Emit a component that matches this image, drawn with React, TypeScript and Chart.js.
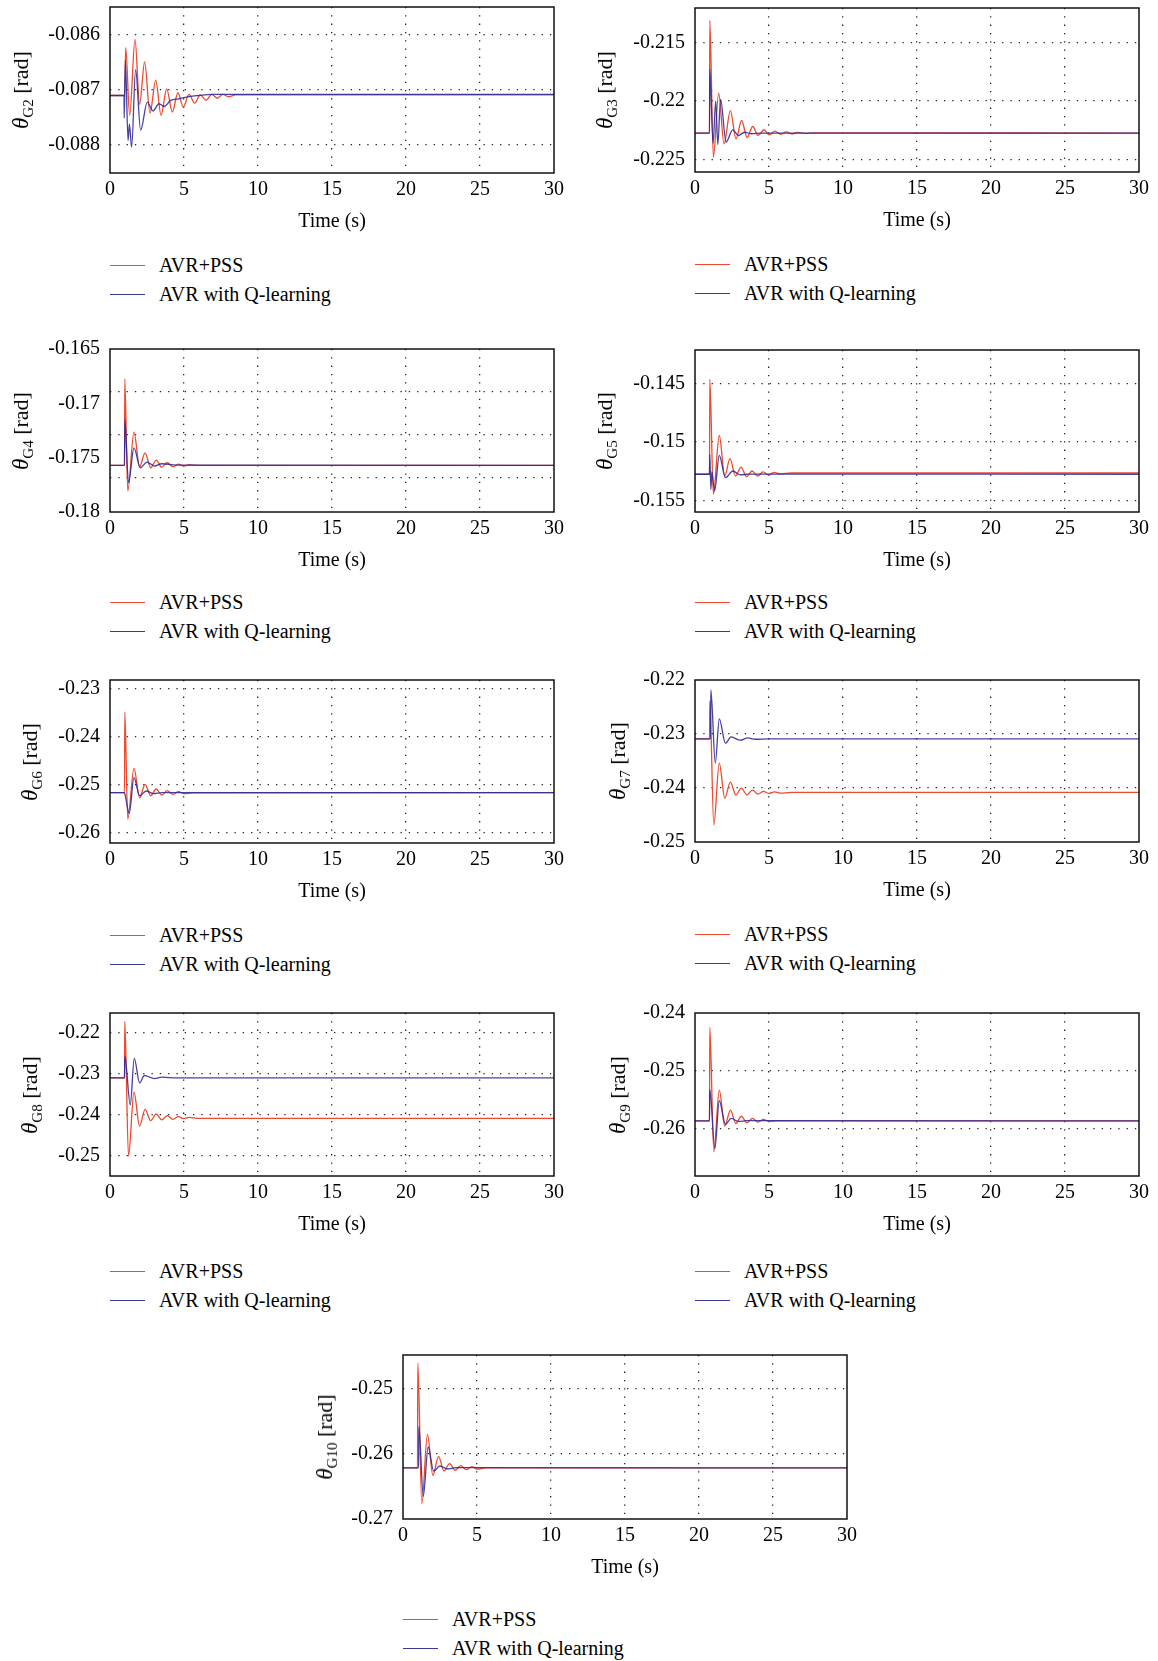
import React, { useEffect, useRef } from "react";
import { Chart, registerables } from "chart.js";
Chart.register(...registerables);

const FONT = '"Liberation Serif", "Times New Roman", serif';
const RED = "#ee4a30";
const BLUE = "rgba(44, 40, 150, 0.88)";
const BLUE_LEGEND = "#3a3896";

const timeTicks = [0, 5, 10, 15, 20, 25, 30];
const seriesNames = ["AVR+PSS", "AVR with Q-learning"];

// ---- G2 ----
const g2PssT = [0, 0.99, 1.06, 1.33, 1.69, 2.0, 2.34, 2.7, 3.09, 3.45, 3.83, 4.21, 4.59, 4.95, 5.34, 5.72, 6.1, 6.49, 6.87, 7.25, 7.63, 8.0, 8.5, 30];
const g2PssY = [-0.0871, -0.0871, -0.08623, -0.08746, -0.08608, -0.08726, -0.08649, -0.08742, -0.08682, -0.08746, -0.08698, -0.0874, -0.08705, -0.08731, -0.08708, -0.08724, -0.08709, -0.08719, -0.08708, -0.08715, -0.08708, -0.08712, -0.08709, -0.08709];
const g2QlT = [0, 0.95, 0.96, 1.04, 1.22, 1.31, 1.46, 1.73, 2.07, 2.52, 2.9, 3.31, 3.65, 4.1, 4.66, 5.34, 6.0, 6.9, 30];
const g2QlY = [-0.0871, -0.0871, -0.08751, -0.08646, -0.08792, -0.08762, -0.08804, -0.08663, -0.08773, -0.08722, -0.08738, -0.08725, -0.0873, -0.08719, -0.08716, -0.08712, -0.0871, -0.08708, -0.08708];
const g2Labels = [-0.086, -0.087, -0.088];
const g2Grid = [-0.086, -0.087, -0.088];
const g2Range = [-0.08851, -0.08549];

// ---- G3 ----
const g3PssT = [0, 0.98, 1.0, 1.24, 1.6, 1.96, 2.39, 2.77, 3.15, 3.52, 3.9, 4.26, 4.66, 5.02, 5.4, 5.79, 6.17, 6.55, 6.93, 7.5, 8.0, 30];
const g3PssY = [-0.22273, -0.22273, -0.21313, -0.22477, -0.21932, -0.22364, -0.2208, -0.22321, -0.22165, -0.2231, -0.22216, -0.22293, -0.22244, -0.22287, -0.22256, -0.22282, -0.22262, -0.2228, -0.22266, -0.22275, -0.2227, -0.22273];
const g3QlT = [0, 0.98, 1.0, 1.22, 1.4, 1.54, 1.73, 2.1, 2.55, 2.93, 3.35, 3.8, 4.5, 30];
const g3QlY = [-0.22273, -0.22273, -0.21727, -0.2236, -0.22, -0.2237, -0.21985, -0.2235, -0.22245, -0.22293, -0.22265, -0.22278, -0.22272, -0.22273];
const g3Labels = [-0.215, -0.22, -0.225];
const g3Grid = [-0.215, -0.22, -0.225];
const g3Range = [-0.22604, -0.21206];

// ---- G4 ----
const g4PssT = [0, 0.98, 1.0, 1.2, 1.62, 2.0, 2.37, 2.75, 3.12, 3.5, 3.87, 4.25, 4.62, 5.0, 5.37, 6.0, 30];
const g4PssY = [-0.17571, -0.17571, -0.16776, -0.17807, -0.17265, -0.17584, -0.17455, -0.17593, -0.17522, -0.17587, -0.17547, -0.17584, -0.17559, -0.17577, -0.17565, -0.17571, -0.17571];
const g4QlT = [0, 0.98, 1.0, 1.25, 1.62, 2.05, 2.5, 3.0, 3.5, 4.5, 30];
const g4QlY = [-0.17571, -0.17571, -0.17149, -0.1773, -0.17409, -0.17593, -0.17541, -0.17577, -0.17556, -0.17568, -0.17571];
const g4Labels = [-0.165, -0.17, -0.175, -0.18];
const g4Grid = [-0.16895, -0.1729, -0.17685];
const g4Range = [-0.18, -0.165];

// ---- G5 ----
const g5PssT = [0, 0.98, 1.0, 1.24, 1.64, 2.01, 2.36, 2.74, 3.11, 3.48, 3.86, 4.23, 4.6, 4.98, 5.35, 5.72, 6.5, 30];
const g5PssY = [-0.15276, -0.15276, -0.14459, -0.15447, -0.14943, -0.15291, -0.15142, -0.15291, -0.15214, -0.15296, -0.15248, -0.15291, -0.15256, -0.15282, -0.15259, -0.15273, -0.15265, -0.15265];
const g5QlT = [0, 0.98, 1.0, 1.07, 1.14, 1.32, 1.64, 2.06, 2.56, 3.06, 3.6, 30];
const g5QlY = [-0.15276, -0.15276, -0.15105, -0.15405, -0.15256, -0.15419, -0.15114, -0.15305, -0.15248, -0.15282, -0.15274, -0.15276];
const g5Labels = [-0.145, -0.15, -0.155];
const g5Grid = [-0.145, -0.15, -0.155];
const g5Range = [-0.156, -0.14209];

// ---- G6 ----
const g6PssT = [0, 0.98, 1.0, 1.2, 1.62, 2.0, 2.37, 2.75, 3.12, 3.5, 3.87, 4.25, 4.62, 5.0, 5.6, 30];
const g6PssY = [-0.2516, -0.2516, -0.23483, -0.2571, -0.24652, -0.25264, -0.24986, -0.25223, -0.25084, -0.25209, -0.25118, -0.25195, -0.25139, -0.25181, -0.25165, -0.2516];
const g6QlT = [0, 0.98, 1.05, 1.3, 1.62, 2.0, 2.45, 2.95, 3.5, 30];
const g6QlY = [-0.2516, -0.2516, -0.2525, -0.25592, -0.24847, -0.25223, -0.25125, -0.25181, -0.2516, -0.2516];
const g6Labels = [-0.23, -0.24, -0.25, -0.26];
const g6Grid = [-0.23, -0.24, -0.25, -0.26];
const g6Range = [-0.2621, -0.2281];

// ---- G7 ----
const g7PssT = [0, 0.98, 1.0, 1.27, 1.64, 2.01, 2.39, 2.76, 3.13, 3.51, 3.88, 4.25, 4.63, 5.0, 5.37, 5.75, 6.5, 30];
const g7PssY = [-0.2309, -0.2309, -0.22388, -0.24681, -0.2354, -0.24187, -0.23891, -0.24126, -0.24002, -0.24126, -0.24039, -0.24113, -0.24064, -0.24101, -0.2407, -0.24095, -0.24082, -0.24082];
const g7QlT = [0, 1.05, 1.07, 1.37, 1.64, 2.06, 2.44, 3.06, 3.56, 4.06, 5.0, 30];
const g7QlY = [-0.2309, -0.2309, -0.22185, -0.2354, -0.2272, -0.2317, -0.23054, -0.23115, -0.23072, -0.23097, -0.2309, -0.2309];
const g7Labels = [-0.22, -0.23, -0.24, -0.25];
const g7Grid = [-0.23, -0.24];
const g7Range = [-0.25, -0.22];

// ---- G8 ----
const g8PssT = [0, 0.98, 1.0, 1.25, 1.62, 2.0, 2.37, 2.75, 3.12, 3.5, 3.87, 4.25, 4.62, 5.0, 5.37, 6.0, 30];
const g8PssY = [-0.231, -0.231, -0.21716, -0.25011, -0.2345, -0.24276, -0.23867, -0.24145, -0.23981, -0.24128, -0.24022, -0.24112, -0.24047, -0.24096, -0.24063, -0.24088, -0.24088];
const g8QlT = [0, 0.98, 1.0, 1.37, 1.64, 2.0, 2.32, 3.0, 3.5, 4.5, 30];
const g8QlY = [-0.231, -0.231, -0.22558, -0.2376, -0.2262, -0.2322, -0.2304, -0.23114, -0.23082, -0.23098, -0.231];
const g8Labels = [-0.22, -0.23, -0.24, -0.25];
const g8Grid = [-0.22, -0.23, -0.24, -0.25];
const g8Range = [-0.255, -0.2151];

// ---- G9 ----
const g9PssT = [0, 0.98, 1.0, 1.27, 1.64, 2.01, 2.39, 2.76, 3.13, 3.51, 3.88, 4.25, 4.63, 5.0, 5.6, 30];
const g9PssY = [-0.25859, -0.25859, -0.24245, -0.26395, -0.25329, -0.25951, -0.25674, -0.25905, -0.2578, -0.25893, -0.25818, -0.25882, -0.25836, -0.2587, -0.25859, -0.25859];
const g9QlT = [0, 0.98, 1.0, 1.34, 1.64, 2.06, 2.44, 2.94, 3.5, 30];
const g9QlY = [-0.25859, -0.25859, -0.25317, -0.26337, -0.25513, -0.25922, -0.25818, -0.2587, -0.25857, -0.25859];
const g9Labels = [-0.24, -0.25, -0.26];
const g9Grid = [-0.25, -0.26];
const g9Range = [-0.2681, -0.24];

// ---- G10 ----
const g10PssT = [0, 0.98, 1.0, 1.27, 1.65, 2.02, 2.4, 2.77, 3.15, 3.52, 3.9, 4.27, 4.65, 5.02, 5.6, 30];
const g10PssY = [-0.26219, -0.26219, -0.24612, -0.26765, -0.25704, -0.26332, -0.26041, -0.26265, -0.26153, -0.26255, -0.26184, -0.26245, -0.26199, -0.26235, -0.26219, -0.26219];
const g10QlT = [0, 1.05, 1.07, 1.37, 1.7, 2.07, 2.5, 3.0, 3.6, 30];
const g10QlY = [-0.26219, -0.26219, -0.25582, -0.26653, -0.25898, -0.26265, -0.26189, -0.26235, -0.26215, -0.26219];
const g10Labels = [-0.25, -0.26, -0.27];
const g10Grid = [-0.25, -0.26];
const g10Range = [-0.27, -0.2449];

type PanelDef = {
  sub: string;
  pssT: number[]; pssY: number[]; qlT: number[]; qlY: number[];
  labels: number[]; grid: number[]; range: number[];
  left: number; top: number; w: number; h: number; titleX: number; legendDy: number;
};

const panels: PanelDef[] = [
  { sub: "G2", pssT: g2PssT, pssY: g2PssY, qlT: g2QlT, qlY: g2QlY, labels: g2Labels, grid: g2Grid, range: g2Range, left: 110, top: 7, w: 444, h: 166, titleX: 21, legendDy: 92 },
  { sub: "G3", pssT: g3PssT, pssY: g3PssY, qlT: g3QlT, qlY: g3QlY, labels: g3Labels, grid: g3Grid, range: g3Range, left: 695, top: 8, w: 444, h: 164, titleX: 605, legendDy: 92 },
  { sub: "G4", pssT: g4PssT, pssY: g4PssY, qlT: g4QlT, qlY: g4QlY, labels: g4Labels, grid: g4Grid, range: g4Range, left: 110, top: 349, w: 444, h: 163, titleX: 21, legendDy: 90 },
  { sub: "G5", pssT: g5PssT, pssY: g5PssY, qlT: g5QlT, qlY: g5QlY, labels: g5Labels, grid: g5Grid, range: g5Range, left: 695, top: 350, w: 444, h: 162, titleX: 605, legendDy: 90 },
  { sub: "G6", pssT: g6PssT, pssY: g6PssY, qlT: g6QlT, qlY: g6QlY, labels: g6Labels, grid: g6Grid, range: g6Range, left: 110, top: 680, w: 444, h: 163, titleX: 30, legendDy: 92 },
  { sub: "G7", pssT: g7PssT, pssY: g7PssY, qlT: g7QlT, qlY: g7QlY, labels: g7Labels, grid: g7Grid, range: g7Range, left: 695, top: 680, w: 444, h: 162, titleX: 618, legendDy: 92 },
  { sub: "G8", pssT: g8PssT, pssY: g8PssY, qlT: g8QlT, qlY: g8QlY, labels: g8Labels, grid: g8Grid, range: g8Range, left: 110, top: 1013, w: 444, h: 163, titleX: 30, legendDy: 95 },
  { sub: "G9", pssT: g9PssT, pssY: g9PssY, qlT: g9QlT, qlY: g9QlY, labels: g9Labels, grid: g9Grid, range: g9Range, left: 695, top: 1013, w: 444, h: 163, titleX: 618, legendDy: 95 },
  { sub: "G10", pssT: g10PssT, pssY: g10PssY, qlT: g10QlT, qlY: g10QlY, labels: g10Labels, grid: g10Grid, range: g10Range, left: 403, top: 1355, w: 444, h: 164, titleX: 325, legendDy: 100 },
];

const PAD_L = 100;
const PAD_T = 15;
const PAD_R = 16;
const X_AXIS_H = 66;

const framePlugin = {
  id: "frame",
  afterDraw(chart: any) {
    const { ctx, chartArea } = chart;
    ctx.save();
    ctx.strokeStyle = "#111";
    ctx.lineWidth = 1.5;
    ctx.strokeRect(chartArea.left, chartArea.top, chartArea.right - chartArea.left, chartArea.bottom - chartArea.top);
    ctx.restore();
  },
};

const near = (arr: number[], v: number) => arr.some((a) => Math.abs(a - v) < 1e-7);

function Panel({ p }: { p: PanelDef }) {
  const ref = useRef<HTMLCanvasElement | null>(null);
  useEffect(() => {
    if (!ref.current) return;
    const toPts = (t: number[], y: number[]) => t.map((x, i) => ({ x, y: y[i] }));
    const allY = [...p.labels, ...p.grid].filter((v, i, a) => a.findIndex((b) => Math.abs(b - v) < 1e-7) === i);
    const lineStyle = { borderWidth: 1.3, pointRadius: 0, cubicInterpolationMode: "monotone", fill: false };
    const chart = new Chart(ref.current, {
      type: "line",
      data: {
        datasets: [
          { label: seriesNames[1], data: toPts(p.qlT, p.qlY), borderColor: BLUE, ...lineStyle },
          { label: seriesNames[0], data: toPts(p.pssT, p.pssY), borderColor: RED, ...lineStyle },
        ],
      },
      options: {
        animation: false,
        responsive: true,
        maintainAspectRatio: false,
        layout: { padding: { left: 0, top: PAD_T, right: PAD_R, bottom: 0 } },
        plugins: { legend: { display: false }, tooltip: { enabled: false } },
        scales: {
          x: {
            type: "linear",
            min: 0,
            max: 30,
            afterBuildTicks: (s: any) => { s.ticks = timeTicks.map((v) => ({ value: v })); },
            afterFit: (s: any) => { s.height = X_AXIS_H; s.paddingLeft = 0; s.paddingRight = 0; },
            ticks: { autoSkip: false, maxRotation: 0, padding: 5, color: "#000", font: { family: FONT, size: 20 } },
            grid: {
              drawTicks: false,
              lineWidth: 1.3,
              color: (c: any) => (c.tick && (c.tick.value === 0 || c.tick.value === 30) ? "rgba(0,0,0,0)" : "#222"),
            },
            border: { display: false, dash: [1.3, 7] },
            title: { display: true, text: "Time (s)", color: "#000", font: { family: FONT, size: 20 }, padding: { top: 0, bottom: 5 } },
          },
          y: {
            type: "linear",
            min: p.range[0],
            max: p.range[1],
            afterBuildTicks: (s: any) => { s.ticks = allY.map((v) => ({ value: v })); },
            afterFit: (s: any) => { s.width = PAD_L; s.paddingTop = 0; s.paddingBottom = 0; },
            ticks: {
              autoSkip: false,
              padding: 10,
              color: "#000",
              font: { family: FONT, size: 20 },
              callback: (v: any) => (near(p.labels, Number(v)) ? String(+Number(v).toFixed(4)) : ""),
            },
            grid: {
              drawTicks: false,
              lineWidth: 1.3,
              color: (c: any) => (c.tick && near(p.grid, c.tick.value) ? "#222" : "rgba(0,0,0,0)"),
            },
            border: { display: false, dash: [1.3, 7] },
          },
        },
      },
      plugins: [framePlugin],
    } as any);
    return () => chart.destroy();
  }, [p]);

  const cw = PAD_L + p.w + PAD_R;
  const ch = PAD_T + p.h + X_AXIS_H;
  const bottom = p.top + p.h;
  const textStyle: React.CSSProperties = { fontFamily: FONT, fontSize: 20, color: "#000", lineHeight: "24px", whiteSpace: "nowrap" };
  const legendRow = (i: number, color: string) => (
    <div style={{ position: "absolute", left: p.left, top: bottom + p.legendDy + i * 29 - 12, height: 24, display: "flex", alignItems: "center", ...textStyle }}>
      <span style={{ display: "inline-block", width: 35, height: 0, borderTop: `1.5px solid ${color}` }} />
      <span style={{ marginLeft: 14 }}>{seriesNames[i]}</span>
    </div>
  );
  return (
    <>
      <div style={{ position: "absolute", left: p.left - PAD_L, top: p.top - PAD_T, width: cw, height: ch }}>
        <canvas ref={ref} />
      </div>
      <div
        style={{
          position: "absolute",
          left: p.titleX,
          top: p.top + p.h / 2,
          transform: "translate(-50%, -50%) rotate(-90deg)",
          ...textStyle,
          fontSize: 22,
        }}
      >
        <i style={{ fontSize: 23 }}>θ</i>
        <sub style={{ fontSize: 15, verticalAlign: "-5px", lineHeight: 0 }}>{p.sub}</sub> [rad]
      </div>
      {legendRow(0, RED)}
      {legendRow(1, BLUE_LEGEND)}
    </>
  );
}

export default function App() {
  return (
    <div style={{ position: "absolute", left: 0, top: 0, width: 1158, height: 1661, background: "#fff", overflow: "hidden" }}>
      {panels.map((p) => (
        <Panel key={p.sub} p={p} />
      ))}
    </div>
  );
}
